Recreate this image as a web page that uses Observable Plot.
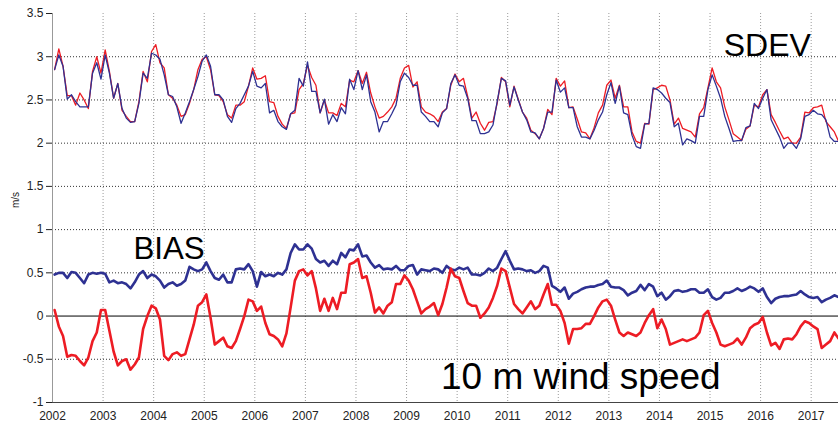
<!DOCTYPE html>
<html>
<head>
<meta charset="utf-8">
<script src="https://cdn.jsdelivr.net/npm/d3@7"></script>
<script src="https://cdn.jsdelivr.net/npm/@observablehq/plot@0.6"></script>
<style>
  html, body { margin: 0; padding: 0; background: #fff; }
  #chart svg { display: block; }
</style>
</head>
<body>
<div id="chart"></div>
<script>
// Monthly series, January 2002 .. July 2017
const startYear = 2002;

const sdevRed = [
  2.85, 3.09, 2.89, 2.55, 2.55, 2.44, 2.58, 2.50, 2.40, 2.83, 3.00, 2.81,
  3.08, 2.83, 2.52, 2.69, 2.38, 2.31, 2.25, 2.25, 2.48, 2.83, 2.71, 3.06,
  3.14, 2.93, 2.87, 2.56, 2.52, 2.44, 2.31, 2.33, 2.46, 2.62, 2.85, 2.97,
  3.00, 2.85, 2.56, 2.55, 2.48, 2.33, 2.29, 2.44, 2.44, 2.48, 2.66, 2.87,
  2.74, 2.75, 2.78, 2.48, 2.47, 2.31, 2.22, 2.17, 2.34, 2.35, 2.62, 2.69,
  2.90, 2.76, 2.67, 2.35, 2.50, 2.35, 2.35, 2.32, 2.46, 2.42, 2.73, 2.71,
  2.84, 2.69, 2.82, 2.58, 2.42, 2.29, 2.31, 2.36, 2.42, 2.52, 2.75, 2.87,
  2.90, 2.65, 2.71, 2.42, 2.36, 2.34, 2.31, 2.25, 2.36, 2.40, 2.67, 2.80,
  2.71, 2.75, 2.54, 2.29, 2.36, 2.23, 2.15, 2.24, 2.25, 2.46, 2.76, 2.71,
  2.42, 2.66, 2.51, 2.36, 2.29, 2.15, 2.11, 2.05, 2.17, 2.39, 2.33, 2.75,
  2.66, 2.72, 2.41, 2.42, 2.28, 2.13, 2.12, 2.05, 2.18, 2.35, 2.44, 2.67,
  2.73, 2.52, 2.67, 2.42, 2.42, 2.13, 2.02, 2.00, 2.23, 2.22, 2.62, 2.64,
  2.67, 2.66, 2.50, 2.22, 2.29, 2.17, 2.15, 2.13, 2.07, 2.34, 2.41, 2.64,
  2.87, 2.71, 2.64, 2.42, 2.27, 2.11, 2.07, 2.03, 2.16, 2.20, 2.44, 2.42,
  2.56, 2.62, 2.33, 2.24, 2.14, 2.05, 2.07, 2.00, 2.00, 2.07, 2.36, 2.35,
  2.41, 2.42, 2.44, 2.25, 2.19, 2.13, 2.02
];

const sdevBlue = [
  2.85, 3.02, 2.89, 2.51, 2.56, 2.48, 2.42, 2.42, 2.42, 2.81, 2.93, 2.74,
  3.02, 2.81, 2.52, 2.69, 2.40, 2.29, 2.24, 2.25, 2.46, 2.81, 2.75, 3.04,
  3.02, 2.97, 2.79, 2.56, 2.54, 2.42, 2.23, 2.35, 2.48, 2.62, 2.77, 2.95,
  3.02, 2.89, 2.56, 2.56, 2.50, 2.31, 2.24, 2.40, 2.46, 2.56, 2.66, 2.83,
  2.66, 2.64, 2.69, 2.35, 2.38, 2.25, 2.19, 2.16, 2.34, 2.38, 2.75, 2.66,
  2.94, 2.60, 2.60, 2.35, 2.51, 2.22, 2.33, 2.25, 2.41, 2.34, 2.74, 2.62,
  2.84, 2.62, 2.79, 2.48, 2.36, 2.13, 2.25, 2.25, 2.34, 2.44, 2.71, 2.81,
  2.76, 2.67, 2.67, 2.36, 2.31, 2.25, 2.25, 2.19, 2.35, 2.40, 2.69, 2.79,
  2.67, 2.66, 2.52, 2.26, 2.26, 2.11, 2.11, 2.13, 2.21, 2.48, 2.75, 2.72,
  2.44, 2.65, 2.50, 2.36, 2.27, 2.13, 2.12, 2.05, 2.17, 2.36, 2.36, 2.73,
  2.59, 2.64, 2.41, 2.41, 2.19, 2.07, 2.07, 2.05, 2.15, 2.27, 2.36, 2.56,
  2.70, 2.46, 2.66, 2.35, 2.33, 2.09, 1.96, 1.94, 2.22, 2.23, 2.64, 2.62,
  2.58, 2.52, 2.47, 2.19, 2.23, 1.98, 2.05, 2.03, 2.00, 2.31, 2.31, 2.62,
  2.79, 2.66, 2.52, 2.31, 2.17, 2.02, 2.03, 2.03, 2.18, 2.20, 2.46, 2.40,
  2.52, 2.62, 2.27, 2.17, 2.07, 1.94, 2.00, 2.00, 1.94, 2.05, 2.31, 2.33,
  2.38, 2.34, 2.33, 2.27, 2.07, 2.02, 2.02
];

const biasRed = [
  0.07, -0.12, -0.23, -0.47, -0.45, -0.46, -0.52, -0.57, -0.48, -0.29, -0.19, 0.07,
  0.07, -0.17, -0.41, -0.57, -0.52, -0.50, -0.62, -0.56, -0.48, -0.15, 0.00, 0.12,
  0.09, -0.04, -0.46, -0.51, -0.44, -0.42, -0.46, -0.44, -0.27, -0.10, 0.12, 0.16,
  0.25, -0.02, -0.33, -0.29, -0.25, -0.35, -0.37, -0.29, -0.15, 0.00, 0.19, 0.17,
  0.06, 0.11, -0.08, -0.21, -0.23, -0.27, -0.35, -0.20, 0.10, 0.41, 0.52, 0.54,
  0.47, 0.52, 0.32, 0.06, 0.20, 0.06, 0.21, 0.08, 0.27, 0.27, 0.60, 0.62,
  0.66, 0.44, 0.46, 0.27, 0.04, 0.10, 0.03, 0.12, 0.16, 0.37, 0.37, 0.47,
  0.41, 0.31, 0.17, 0.03, 0.08, 0.11, 0.15, 0.01, 0.14, 0.33, 0.55, 0.46,
  0.44, 0.29, 0.15, 0.12, 0.12, -0.02, 0.03, 0.10, 0.21, 0.35, 0.55, 0.52,
  0.33, 0.14, 0.08, 0.03, 0.10, 0.17, 0.08, 0.12, 0.25, 0.37, 0.13, 0.13,
  0.06, -0.08, -0.32, -0.15, -0.15, -0.14, -0.09, -0.09, 0.00, 0.10, 0.17, 0.19,
  0.12, -0.04, -0.19, -0.23, -0.19, -0.21, -0.23, -0.19, -0.08, 0.01, 0.08, -0.14,
  -0.04, -0.15, -0.33, -0.31, -0.29, -0.27, -0.29, -0.27, -0.25, -0.19, 0.01, 0.06,
  -0.08, -0.19, -0.33, -0.35, -0.33, -0.31, -0.26, -0.33, -0.25, -0.14, -0.10, -0.08,
  -0.01, -0.19, -0.34, -0.31, -0.38, -0.27, -0.26, -0.27, -0.21, -0.12, -0.06, -0.08,
  -0.12, -0.15, -0.37, -0.33, -0.29, -0.19, -0.26
];

const biasBlue = [
  0.48, 0.50, 0.50, 0.44, 0.51, 0.50, 0.44, 0.38, 0.48, 0.50, 0.49, 0.50,
  0.49, 0.39, 0.41, 0.38, 0.39, 0.37, 0.32, 0.39, 0.48, 0.52, 0.44, 0.48,
  0.46, 0.41, 0.33, 0.37, 0.39, 0.35, 0.37, 0.41, 0.57, 0.54, 0.52, 0.54,
  0.62, 0.52, 0.44, 0.42, 0.48, 0.39, 0.39, 0.54, 0.55, 0.54, 0.60, 0.52,
  0.34, 0.51, 0.46, 0.48, 0.46, 0.50, 0.48, 0.54, 0.73, 0.83, 0.77, 0.77,
  0.83, 0.78, 0.66, 0.62, 0.64, 0.58, 0.64, 0.60, 0.73, 0.68, 0.77, 0.76,
  0.83, 0.69, 0.70, 0.62, 0.56, 0.59, 0.54, 0.55, 0.54, 0.58, 0.53, 0.53,
  0.58, 0.59, 0.48, 0.54, 0.53, 0.52, 0.55, 0.54, 0.50, 0.58, 0.54, 0.53,
  0.56, 0.54, 0.56, 0.48, 0.48, 0.47, 0.50, 0.55, 0.52, 0.56, 0.66, 0.75,
  0.64, 0.54, 0.55, 0.54, 0.52, 0.53, 0.50, 0.52, 0.58, 0.56, 0.35, 0.32,
  0.28, 0.33, 0.20, 0.26, 0.28, 0.31, 0.33, 0.34, 0.34, 0.36, 0.37, 0.41,
  0.34, 0.33, 0.33, 0.30, 0.24, 0.27, 0.29, 0.36, 0.30, 0.37, 0.34, 0.23,
  0.27, 0.19, 0.23, 0.29, 0.30, 0.28, 0.29, 0.31, 0.31, 0.27, 0.27, 0.31,
  0.22, 0.19, 0.21, 0.27, 0.27, 0.29, 0.32, 0.29, 0.31, 0.34, 0.32, 0.28,
  0.32, 0.22, 0.15, 0.20, 0.22, 0.23, 0.23, 0.24, 0.25, 0.29, 0.25, 0.22,
  0.21, 0.22, 0.16, 0.19, 0.21, 0.24, 0.22
];

const xTicks = [2002, 2003, 2004, 2005, 2006, 2007, 2008, 2009, 2010, 2011, 2012, 2013, 2014, 2015, 2016, 2017];
const yTicks = [-1, -0.5, 0, 0.5, 1, 1.5, 2, 2.5, 3, 3.5];
const yGrid = [-0.5, 0.5, 1, 1.5, 2, 2.5, 3];
const yLabel = "m/s";
const titleSdev = "SDEV";
const titleBias = "BIAS";
const titleVar = "10 m wind speed";

const toRows = (arr) => arr.map((v, i) => ({ t: startYear + (i + 0.5) / 12, v }));

const RED = "#ed1c24";
const BLUE = "#2e3192";
const FONT = "'Liberation Sans', Arial, Helvetica, sans-serif";

const chart = Plot.plot({
  width: 838,
  height: 425,
  marginTop: 13,
  marginBottom: 23,
  marginLeft: 52,
  marginRight: 0,
  style: { fontFamily: FONT, fontSize: "12px", color: "#222", background: "#fff", overflow: "visible" },
  x: { domain: [2002, 2017.54] },
  y: { domain: [-1, 3.5] },
  marks: [
    Plot.ruleX(xTicks.slice(1), { stroke: "#9a9a9a", strokeDasharray: "1,2", strokeWidth: 1 }),
    Plot.ruleY(yGrid, { stroke: "#333", strokeDasharray: "1,2", strokeWidth: 1 }),
    Plot.ruleY([0], { stroke: "#000", strokeWidth: 1 }),
    Plot.ruleY([-1], { stroke: "#444", strokeWidth: 1 }),
    Plot.ruleX([2002], { stroke: "#999", strokeWidth: 1 }),
    Plot.axisX({ ticks: xTicks, tickFormat: (d) => String(d), tickSize: 0, tickPadding: 9, label: null, fontSize: 12 }),
    Plot.axisY({ ticks: yTicks, tickFormat: (d) => String(d), tickSize: 6, tickPadding: 3, label: null, fontSize: 12 }),
    Plot.line(toRows(sdevRed), { x: "t", y: "v", stroke: RED, strokeWidth: 1.3 }),
    Plot.line(toRows(sdevBlue), { x: "t", y: "v", stroke: BLUE, strokeWidth: 1.3 }),
    Plot.line(toRows(biasBlue), { x: "t", y: "v", stroke: BLUE, strokeWidth: 2.6 }),
    Plot.line(toRows(biasRed), { x: "t", y: "v", stroke: RED, strokeWidth: 2.6 }),
    Plot.text([yLabel], { frameAnchor: "left", dx: -37, rotate: -90, fontSize: 10, fill: "#222" }),
    Plot.text([titleSdev], { x: 2015.27, y: 3.005, textAnchor: "start", lineAnchor: "bottom", fontSize: 32, fill: "#000" }),
    Plot.text([titleBias], { x: 2003.6, y: 0.661, textAnchor: "start", lineAnchor: "bottom", fontSize: 31.3, fill: "#000" }),
    Plot.text([titleVar], { x: 2009.68, y: -0.842, textAnchor: "start", lineAnchor: "bottom", fontSize: 37, fill: "#000" })
  ]
});

document.getElementById("chart").appendChild(chart);
</script>
</body>
</html>
